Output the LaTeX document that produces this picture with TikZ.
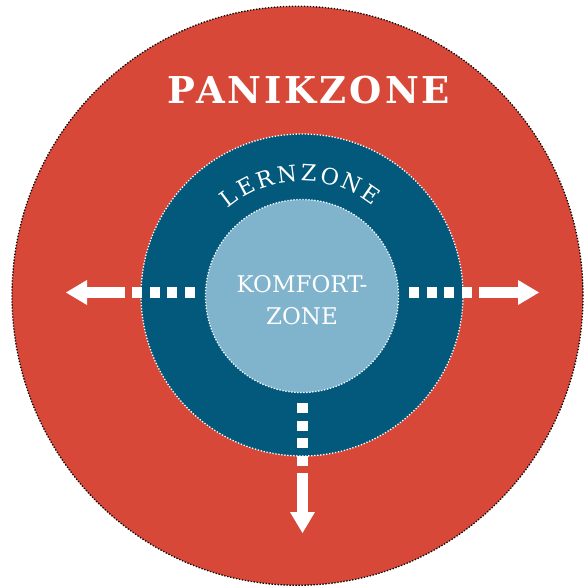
\documentclass[tikz,border=0pt]{standalone}
\usepackage{fontspec}
\setmainfont{DejaVu Serif}
\newfontfamily\panikfam[LetterSpace=8]{DejaVu Serif}
\usetikzlibrary{arrows.meta,shapes.geometric}
\definecolor{panik}{HTML}{D84839}
\definecolor{lern}{HTML}{02597B}
\definecolor{komfort}{HTML}{80B3CC}
\tikzset{
  zonelabel/.style={text=white, inner sep=0pt},
  lernletter/.style={zonelabel, font=\fontsize{22.5}{22.5}\selectfont},
  dotsquares/.style={draw=white, line width=11pt, dash pattern=on 10pt off 7.7pt},
  bigarrow/.style={draw=white, line width=11pt, -{Triangle[length=21pt 0 0, width=25pt 0 0, line width=0pt]}},
  dotborder/.style={line width=1.3pt, dash pattern=on 1.3pt off 1.7pt},
}
\begin{document}
\begin{tikzpicture}[x=1pt,y=-1pt]
\useasboundingbox (0,0) rectangle (584,587);
% zones
\node[ellipse, minimum width=571pt, minimum height=579pt, inner sep=0pt, fill=panik, draw=black, dotborder] (outer) at (297.5,295.75) {};
\node[circle, minimum size=322pt, inner sep=0pt, fill=lern, draw=white, dotborder] (mid) at (302,295) {};
\node[circle, minimum size=193pt, inner sep=0pt, fill=komfort, draw=white, dotborder] (inner) at (302,296) {};
% labels
\node[zonelabel, anchor=base, font=\panikfam\bfseries\fontsize{37}{37}\selectfont] (panik) at (309,103) {PANIKZONE};
\node[zonelabel, align=center, font=\fontsize{23}{32}\selectfont] (komf) at (302,300) {KOMFORT-\\ZONE};
\coordinate (c) at (302,295);
\node[lernletter, rotate=37]    (lz1) at ([shift={(127:122pt)}]c) {L};
\node[lernletter, rotate=27.6]  (lz2) at ([shift={(117.6:122pt)}]c) {E};
\node[lernletter, rotate=17.7]  (lz3) at ([shift={(107.7:122pt)}]c) {R};
\node[lernletter, rotate=7.1]   (lz4) at ([shift={(97.1:122pt)}]c) {N};
\node[lernletter, rotate=-3.2]  (lz5) at ([shift={(86.8:122pt)}]c) {Z};
\node[lernletter, rotate=-13.3] (lz6) at ([shift={(76.7:122pt)}]c) {O};
\node[lernletter, rotate=-24.1] (lz7) at ([shift={(65.9:122pt)}]c) {N};
\node[lernletter, rotate=-34.5] (lz8) at ([shift={(55.5:122pt)}]c) {E};
% left arrow
\coordinate (lA) at (195,292.5);
\coordinate (lB) at (132,292.5);
\coordinate (lC) at (125,292.5);
\coordinate (lT) at (66,292.5);
\draw[dotsquares] (lA) -- (lB);
\draw[bigarrow] (lC) -- (lT);
% right arrow
\coordinate (rA) at (409,292.5);
\coordinate (rB) at (473,292.5);
\coordinate (rC) at (479,292.5);
\coordinate (rT) at (539,292.5);
\draw[dotsquares] (rA) -- (rB);
\draw[bigarrow] (rC) -- (rT);
% down arrow
\coordinate (dA) at (302.5,403);
\coordinate (dB) at (302.5,467);
\coordinate (dC) at (302.5,473);
\coordinate (dT) at (302.5,533);
\draw[dotsquares] (dA) -- (dB);
\draw[bigarrow] (dC) -- (dT);
\end{tikzpicture}
\end{document}
